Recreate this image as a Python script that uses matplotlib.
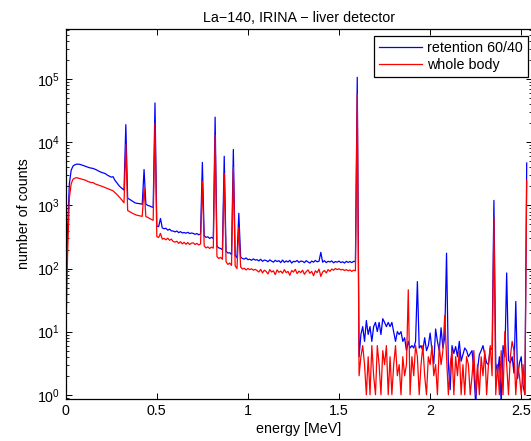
import numpy as np
import matplotlib
matplotlib.use("Agg")
import matplotlib.pyplot as plt
from matplotlib.ticker import LogLocator, FixedLocator, NullFormatter

# spectrum channels, 10 keV wide
energy = np.arange(254) * 0.01

retention = [
    25, 400, 2200, 3600, 4200, 4400, 4500, 4500, 4450, 4350,
    4250, 4150, 4050, 3950, 3900, 3850, 3750, 3650, 3500, 3400,
    3300, 3250, 3150, 3000, 2900, 2800, 2850, 2500, 2300, 2100,
    1950, 1850, 1750, 19000, 1300, 1250, 1200, 1150, 1100, 1080,
    1070, 1060, 1040, 3700, 1050, 1000, 980, 950, 930, 42000,
    470, 460, 620, 440, 425, 435, 405, 420, 395, 392,
    380, 393, 370, 384, 366, 372, 362, 375, 358, 365,
    360, 348, 358, 342, 352, 4800, 330, 312, 318, 300,
    312, 298, 25000, 225, 212, 208, 198, 6000, 188, 176,
    178, 166, 7700, 162, 148, 750, 152, 144, 141, 147,
    138, 140, 135, 142, 136, 138, 132, 140, 130, 136,
    134, 128, 137, 131, 126, 135, 129, 133, 124, 136,
    125, 132, 127, 135, 122, 130, 128, 134, 125, 131,
    130, 124, 133, 127, 122, 131, 126, 134, 128, 130,
    180, 126, 133, 124, 130, 127, 132, 123, 129, 126,
    131, 124, 128, 122, 130, 125, 129, 124, 130, 128,
    107000, 4, 9, 12, 7, 15, 9, 12, 7, 12,
    14, 10, 14, 9, 16, 14, 12, 14, 12, 14,
    10, 7, 10, 9, 10, 7, 8, 5, 7, 5.5,
    6, 5.5, 7, 62, 5.5, 6, 5, 8, 5, 6,
    9.5, 5, 3.1, 11, 7, 5, 11.5, 5.5, 8, 175,
    3, 1.2, 6, 4.5, 5.8, 4, 7, 3.4, 4.3, 5.5,
    5, 4, 4.5, 5, 2.3, 0.7, 2.5, 4.3, 5, 6,
    4.3, 3.2, 3, 5.5, 5.2, 1200, 3.2, 2.2, 4, 0.7,
    6, 4, 85, 3.5, 3.2, 4, 2.2, 30, 1.8, 3.2,
    4, 1.4, 1, 4700,
]

whole_body = [
    6, 150, 1300, 2200, 2600, 2700, 2750, 2700, 2650, 2600,
    2550, 2500, 2400, 2350, 2300, 2300, 2200, 2150, 2100, 2050,
    2000, 1950, 1900, 1850, 1800, 1750, 1700, 1600, 1500, 1400,
    1300, 1200, 1100, 9300, 830, 800, 770, 740, 720, 700,
    690, 680, 670, 1900, 660, 650, 620, 600, 580, 20000,
    320, 310, 360, 292, 300, 285, 302, 280, 292, 268,
    262, 270, 250, 266, 246, 260, 242, 258, 240, 252,
    255, 240, 250, 236, 245, 2400, 228, 212, 220, 208,
    218, 210, 13000, 155, 144, 150, 140, 3200, 128, 116,
    122, 112, 4000, 110, 100, 450, 106, 98, 101, 95,
    100, 96, 99, 94, 97, 93, 88, 97, 85, 94,
    90, 82, 96, 88, 92, 80, 95, 87, 91, 84,
    96, 86, 90, 78, 93, 88, 97, 83, 91, 86,
    94, 81, 89, 95, 84, 90, 77, 92, 86, 98,
    75, 88, 93, 85, 96, 90, 98, 94, 100, 96,
    99, 95, 97, 93, 96, 92, 95, 90, 94, 92,
    58000, 2, 4, 6, 3, 1, 4, 1, 6, 2,
    1, 6, 3, 1, 5, 3, 6, 1, 4, 1,
    3, 6, 2, 3, 1, 4, 2, 3, 46, 1,
    4, 2, 6, 4, 1, 3, 6, 2, 1, 4,
    3, 6, 2, 3, 1, 6, 3, 5, 18, 4,
    1, 3, 5, 1, 4, 2, 5, 1, 3, 1,
    4, 3, 1, 2, 5, 1, 3, 1, 4, 2,
    5, 1, 3, 6, 2, 640, 1, 3, 1, 5,
    1, 10, 3, 1, 4, 7, 5, 1, 3, 2,
    1, 3, 1, 2500,
]

x_ticks = [0, 0.5, 1, 1.5, 2, 2.5]
x_tick_labels = ["0", "0.5", "1", "1.5", "2", "2.5"]

plt.rcParams["font.family"] = ["Liberation Sans", "DejaVu Sans"]
plt.rcParams["font.size"] = 10.3
plt.rcParams["mathtext.default"] = "regular"

fig = plt.figure(figsize=(5.31, 4.41), dpi=100)
ax = fig.add_axes([65.7 / 531, (441 - 398.7) / 441, (532 - 65.7) / 531, (398.7 - 29.3) / 441])

ax.semilogy(energy, retention, color="#0000ff", lw=0.9, label="retention 60/40")
ax.semilogy(energy, whole_body, color="#ff0000", lw=0.9, label="whole body")

ax.set_xlim(0, 2.559)
ax.set_ylim(0.865, 6.17e5)

ax.xaxis.set_major_locator(FixedLocator(x_ticks))
ax.set_xticklabels(x_tick_labels)
ax.yaxis.set_major_locator(LogLocator(base=10, numticks=10))
ax.yaxis.set_minor_locator(LogLocator(base=10, subs=np.arange(2, 10), numticks=20))
ax.yaxis.set_minor_formatter(NullFormatter())

ax.tick_params(which="both", direction="in", top=True, right=True, colors="black")
ax.tick_params(which="major", length=4, width=0.7, pad=4)
ax.tick_params(which="minor", length=2.5, width=0.6)
for s in ax.spines.values():
    s.set_linewidth(0.9)

ax.set_title("La\u2212140, IRINA \u2212 liver detector", fontsize=10.3, pad=5.5)
ax.set_xlabel("energy [MeV]", labelpad=3)
ax.set_ylabel("number of counts", labelpad=4.5)

leg = ax.legend(loc="upper right", bbox_to_anchor=(0.9914, 0.9819), borderaxespad=0,
                fancybox=False, framealpha=1, edgecolor="black", handlelength=3.0,
                handletextpad=0.4, borderpad=0.35, labelspacing=0.2)
leg.get_frame().set_linewidth(0.9)

fig.savefig("out.png", dpi=100)
